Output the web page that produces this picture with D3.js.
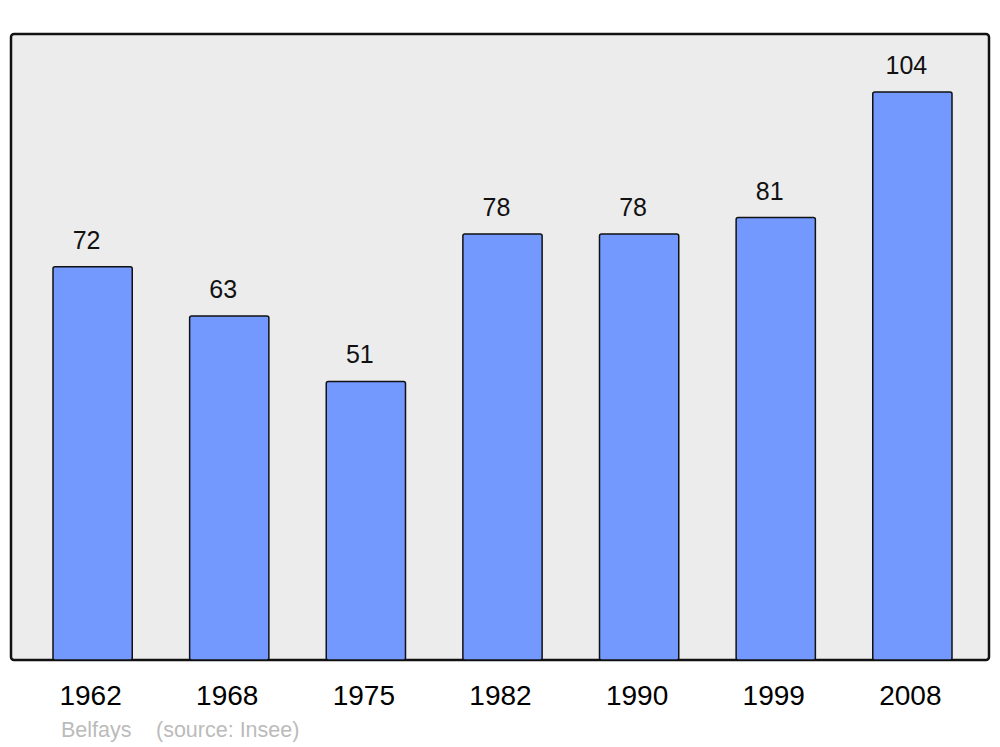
<!DOCTYPE html>
<html><head><meta charset="utf-8">
<script src="https://cdn.jsdelivr.net/npm/d3@7"></script>
<style>body{margin:0;background:#fff}svg{display:block}text{font-family:"Liberation Sans",Arial,sans-serif}</style>
</head><body>
<svg id="c" width="1000" height="747"></svg>
<script>
const years = ["1962","1968","1975","1982","1990","1999","2008"];
const population = [72,63,51,78,78,81,104];
const footerName = "Belfays";
const footerSource = "(source: Insee)";

const svg = d3.select("#c");
const panel = {x0:11, x1:989, y0:34, y1:660};

svg.append("rect").attr("x",panel.x0).attr("y",panel.y0)
  .attr("width",panel.x1-panel.x0).attr("height",panel.y1-panel.y0)
  .attr("rx",3).attr("fill","#ececec").attr("stroke","#111").attr("stroke-width",2.5);

const x = d3.scaleBand().domain(years).range([53,952])
  .paddingInner(0.42).paddingOuter(0);
const y = d3.scaleLinear().domain([0,104]).range([panel.y1,92]);

const g = svg.append("g");
g.selectAll("rect.bar").data(years).join("rect").attr("class","bar")
  .attr("x",d=>x(d)).attr("width",x.bandwidth())
  .attr("y",(d,i)=>y(population[i])).attr("height",(d,i)=>panel.y1-y(population[i]))
  .attr("rx",2).attr("fill","#7399ff").attr("stroke","#111").attr("stroke-width",1.5);

g.selectAll("text.val").data(years).join("text").attr("class","val")
  .attr("x",d=>x(d)+x.bandwidth()/2-6).attr("y",(d,i)=>y(population[i])-18)
  .attr("text-anchor","middle").attr("font-size",25).attr("fill","#111")
  .text((d,i)=>population[i]);

g.selectAll("text.yr").data(years).join("text").attr("class","yr")
  .attr("x",d=>x(d)+x.bandwidth()/2-2).attr("y",705)
  .attr("text-anchor","middle").attr("font-size",28).attr("fill","#000")
  .text(d=>d);

svg.append("text").attr("x",61).attr("y",737).attr("font-size",21.5).attr("fill","#bbb").text(footerName);
svg.append("text").attr("x",156).attr("y",737).attr("font-size",21.5).attr("fill","#bbb").text(footerSource);
</script>
</body></html>
